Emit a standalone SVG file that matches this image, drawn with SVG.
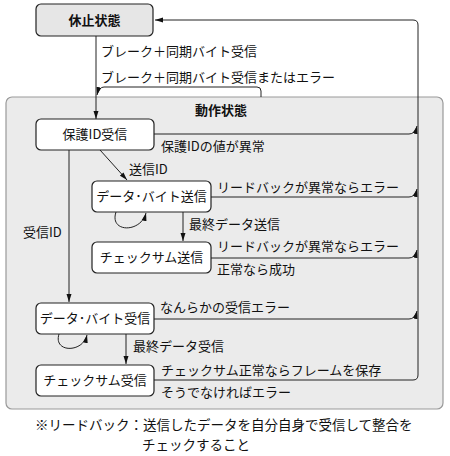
<svg xmlns="http://www.w3.org/2000/svg" width="450" height="456" viewBox="0 0 450 456">
<defs>
<marker id="ah" viewBox="0 0 8 6" refX="8" refY="3" markerWidth="8" markerHeight="6" markerUnits="userSpaceOnUse" orient="auto">
<path d="M0,0.5 L8,3 L0,5.5 Z" fill="#111"/>
</marker>
<style>
text{font-family:"Noto Sans CJK JP","Liberation Sans",sans-serif;font-size:13px;fill:#111}
.b{font-weight:bold}
.c{text-anchor:middle}
.n{font-size:13.5px}
.node{fill:#fff;stroke:#222;stroke-width:1.2}
.ln{fill:none;stroke:#222;stroke-width:1}
.ar{fill:none;stroke:#222;stroke-width:1;marker-end:url(#ah)}
</style>
</defs>
<rect width="450" height="456" fill="#fff"/>
<g id="active">
<rect x="6" y="97" width="437" height="312" rx="6" fill="#ebebeb" stroke="#999" stroke-width="1.2"/>
<text class="b c" x="221" y="115">動作状態</text>
</g>
<g id="connectors">
<path class="ar" d="M96,36 V119"/>
<path class="ar" d="M261,97 V91 Q261,87 257,87 H104 Q99,87 97,95"/>
<path class="ar" d="M154,380 H413 Q418,380 418,375 V25 Q418,20 413,20 H155"/>
<path class="ar" d="M154,134 H409 Q415,134 417,126"/>
<path class="ar" d="M211,197 H409 Q415,197 417,189"/>
<path class="ar" d="M211,258 H409 Q415,258 417,250"/>
<path class="ar" d="M154,319 H409 Q415,319 417,311"/>
<path class="ar" d="M100,150 L127,180"/>
<path class="ar" d="M69,150 V302"/>
<path class="ar" d="M183,212 V241"/>
<path class="ar" d="M126,334 V364"/>
<path class="ar" d="M116,212 C109,233 141,233 146,213"/>
<path class="ar" d="M59,334 C53,353 83,353 87,335"/>
<text x="101" y="56">ブレーク＋同期バイト受信</text>
<text x="101" y="82">ブレーク＋同期バイト受信またはエラー</text>
<text x="161" y="151">保護IDの値が異常</text>
<text x="129" y="174">送信ID</text>
<text x="217" y="192">リードバックが異常ならエラー</text>
<text x="189" y="229">最終データ送信</text>
<text x="23" y="237">受信ID</text>
<text x="217" y="251">リードバックが異常ならエラー</text>
<text x="217" y="274">正常なら成功</text>
<text x="160" y="312">なんらかの受信エラー</text>
<text x="133" y="351">最終データ受信</text>
<text x="161" y="375">チェックサム正常ならフレームを保存</text>
<text x="161" y="397">そうでなければエラー</text>
</g>
<g id="idle">
<rect x="36" y="4" width="117" height="32" rx="5" fill="#e6e6e6" stroke="#222" stroke-width="1.2"/>
<text class="b c" x="94.500" y="25">休止状態</text>
</g>
<g id="protect-id">
<rect class="node" x="36" y="119" width="118" height="31" rx="5"/>
<text class="c" x="95" y="139">保護ID受信</text>
</g>
<g id="data-send">
<rect class="node" x="92" y="181" width="119" height="31" rx="5"/>
<text class="c" x="151.500" y="201">データ･バイト送信</text>
</g>
<g id="checksum-send">
<rect class="node" x="92" y="242" width="119" height="31" rx="5"/>
<text class="c" x="151.500" y="262">チェックサム送信</text>
</g>
<g id="data-recv">
<rect class="node" x="36" y="303" width="118" height="31" rx="5"/>
<text class="c" x="95" y="323">データ･バイト受信</text>
</g>
<g id="checksum-recv">
<rect class="node" x="36" y="365" width="118" height="31" rx="5"/>
<text class="c" x="95" y="385">チェックサム受信</text>
</g>
<g id="note">
<text class="n" x="35" y="430">※リードバック：送信したデータを自分自身で受信して整合を</text>
<text class="n" x="142" y="450">チェックすること</text>
</g>
</svg>
